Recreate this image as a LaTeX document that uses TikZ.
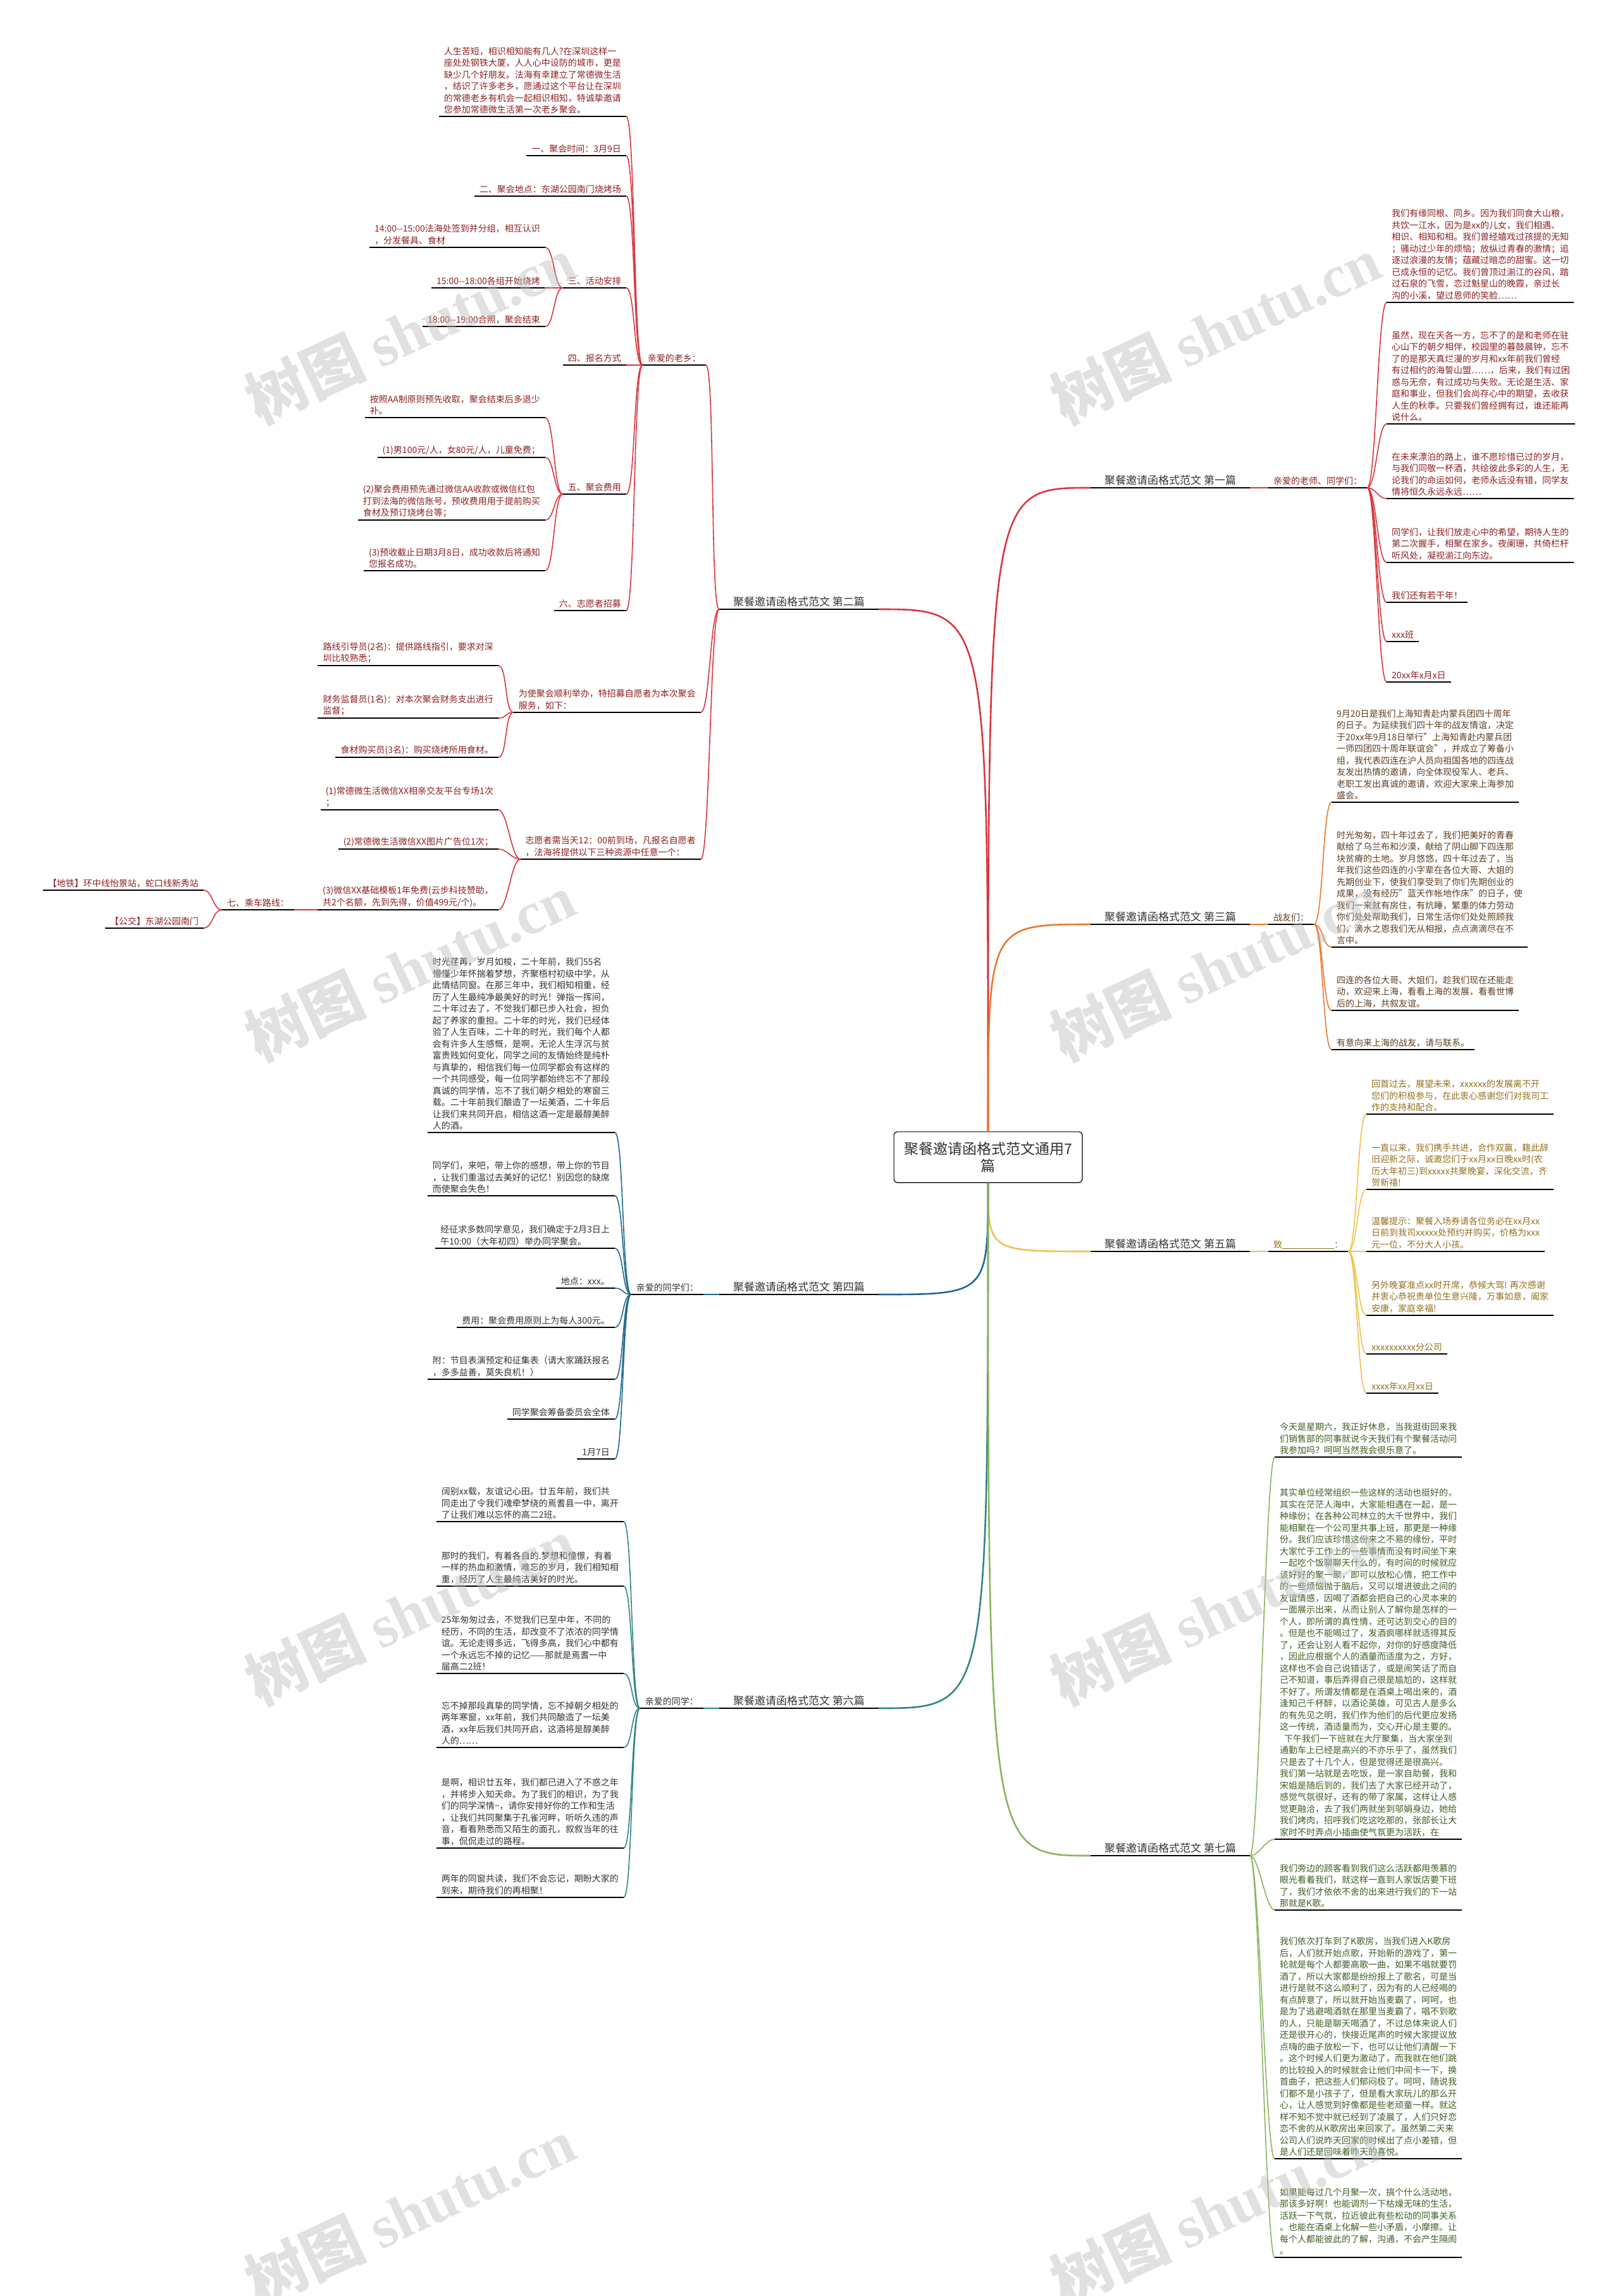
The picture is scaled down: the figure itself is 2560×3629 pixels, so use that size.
\documentclass[tikz,border=0pt]{standalone}
\usepackage{fontspec}
\setmainfont{Noto Sans CJK SC}
\newfontfamily\wmlatin{Liberation Serif}

\definecolor{redb}{HTML}{D9363E}
\definecolor{redt}{HTML}{8E1F1F}
\definecolor{orangeb}{HTML}{E8792E}
\definecolor{oranget}{HTML}{5E3D20}
\definecolor{goldb}{HTML}{F0C24A}
\definecolor{goldt}{HTML}{93701C}
\definecolor{greenb}{HTML}{87B55C}
\definecolor{greent}{HTML}{3E5E22}
\definecolor{blueb}{HTML}{1F6A8C}
\definecolor{tealb}{HTML}{2F8583}
\definecolor{greyt}{HTML}{333333}
\definecolor{mark}{HTML}{BDBDBD}

\newcommand{\smallcn}{\fontsize{14}{18.5}\selectfont}
\newcommand{\labelcn}{\fontsize{17}{20}\selectfont}
\newcommand{\titlecn}{\fontsize{23}{27}\selectfont}

\tikzset{
  ul/.style={append after command={(\tikzlastnode.south west) edge[draw=black,line width=1.6pt] (\tikzlastnode.south east)}},
  leaf/.style={font=\smallcn,align=left,inner xsep=8pt,inner ysep=4pt,ul},
  lf/.style={leaf,anchor=south east},
  rt/.style={leaf,anchor=south west},
  branch/.style={font=\labelcn,text=greyt,inner xsep=22pt,inner ysep=4pt,ul},
  trunk/.style={line width=2.6pt,to path={.. controls (\tikztostart|-\tikztotarget) .. (\tikztotarget)}},
  tol/.style={line width=1.6pt,to path={.. controls +(-14,0) and +(14,0) .. (\tikztotarget)}},
  tor/.style={line width=1.6pt,to path={.. controls +(14,0) and +(-14,0) .. (\tikztotarget)}},
}

\begin{document}
\begin{tikzpicture}[x=1pt,y=-1pt]
\useasboundingbox (0,0) rectangle (2560,3629);

\node[draw=black,line width=1.2pt,rounded corners=5pt,fill=white,font=\titlecn,align=center,inner xsep=16pt,inner ysep=16pt,text=greyt] (ctr) at (1562,1829) {聚餐邀请函格式范文通用7\\篇};

% branch labels
\node[branch,anchor=south west] (b1) at (1724,771) {聚餐邀请函格式范文 第一篇};
\node[branch,anchor=south east] (b2) at (1389,963) {聚餐邀请函格式范文 第二篇};
\node[branch,anchor=south west] (b3) at (1724,1461) {聚餐邀请函格式范文 第三篇};
\node[branch,anchor=south east] (b4) at (1389,2046) {聚餐邀请函格式范文 第四篇};
\node[branch,anchor=south west] (b5) at (1724,1978) {聚餐邀请函格式范文 第五篇};
\node[branch,anchor=south east] (b6) at (1389,2700) {聚餐邀请函格式范文 第六篇};
\node[branch,anchor=south west] (b7) at (1724,2933) {聚餐邀请函格式范文 第七篇};

\draw[redb,trunk] (ctr.north) to (b1.south west);
\draw[redb,trunk] (ctr.north) to (b2.south east);
\draw[orangeb,trunk] (ctr.north) to (b3.south west);
\draw[blueb,trunk] (ctr.south) to (b4.south east);
\draw[goldb,trunk] (ctr.south) to (b5.south west);
\draw[tealb,trunk] (ctr.south) to (b6.south east);
\draw[greenb,trunk] (ctr.south) to (b7.south west);

% second
\node[lf,text=redt] (lx) at (1116,577) {亲爱的老乡：};
\node[lf,text=redt] (vol) at (1108,1126) {为使聚会顺利举办，特招募自愿者为本次聚会\\服务，如下：};
\node[lf,text=redt] (res) at (1108,1358) {志愿者需当天12：00前到场，凡报名自愿者\\，法海将提供以下三种资源中任意一个：};
\node[lf,text=redt] (a1) at (990,184) {人生苦短，相识相知能有几人?在深圳这样一\\座处处钢铁大厦，人人心中设防的城市，更是\\缺少几个好朋友。法海有幸建立了常德微生活\\，结识了许多老乡，愿通过这个平台让在深圳\\的常德老乡有机会一起相识相知，特诚挚邀请\\您参加常德微生活第一次老乡聚会。};
\node[lf,text=redt] (a2) at (990,246) {一、聚会时间：3月9日};
\node[lf,text=redt] (a3) at (990,310) {二、聚会地点：东湖公园南门烧烤场};
\node[lf,text=redt] (a4) at (990,455) {三、活动安排};
\node[lf,text=redt] (a5) at (990,577) {四、报名方式};
\node[lf,text=redt] (a6) at (990,781) {五、聚会费用};
\node[lf,text=redt] (a7) at (990,965) {六、志愿者招募};
\node[lf,text=redt] (c1) at (862,391) {14:00-{}-15:00法海处签到并分组，相互认识\\，分发餐具、食材};
\node[lf,text=redt] (c2) at (862,455) {15:00-{}-18:00各组开始烧烤};
\node[lf,text=redt] (c3) at (862,516) {18:00-{}-19:00合照，聚会结束};
\node[lf,text=redt] (d1) at (862,660) {按照AA制原则预先收取，聚会结束后多退少\\补。};
\node[lf,text=redt] (d2) at (862,723) {(1)男100元/人，女80元/人，儿童免费；};
\node[lf,text=redt] (d3) at (862,822) {(2)聚会费用预先通过微信AA收款或微信红包\\打到法海的微信账号，预收费用用于提前购买\\食材及预订烧烤台等；};
\node[lf,text=redt] (d4) at (862,902) {(3)预收截止日期3月8日，成功收款后将通知\\您报名成功。};
\node[lf,text=redt] (f1) at (788,1052) {路线引导员(2名)：提供路线指引，要求对深\\圳比较熟悉；};
\node[lf,text=redt] (f2) at (788,1135) {财务监督员(1名)：对本次聚会财务支出进行\\监督；};
\node[lf,text=redt] (f3) at (788,1197) {食材购买员(3名)：购买烧烤所用食材。};
\node[lf,text=redt] (h1) at (788,1280) {(1)常德微生活微信XX相亲交友平台专场1次\\；};
\node[lf,text=redt] (h2) at (788,1342) {(2)常德微生活微信XX图片广告位1次；};
\node[lf,text=redt] (h3) at (788,1438) {(3)微信XX基础模板1年免费(云步科技赞助，\\共2个名额，先到先得，价值499元/个)。};
\node[lf,text=redt] (ride) at (465,1438) {七、乘车路线：};
\node[lf,text=redt] (j1) at (322,1407) {【地铁】环中线怡景站，蛇口线新秀站};
\node[lf,text=redt] (j2) at (322,1467) {【公交】东湖公园南门};

\foreach \k in {lx,vol,res} \draw[redb,tol] (b2.south west) to (\k.south east);
\foreach \k in {a1,a2,a3,a4,a5,a6,a7} \draw[redb,tol] (lx.south west) to (\k.south east);
\foreach \k in {c1,c2,c3} \draw[redb,tol] (a4.south west) to (\k.south east);
\foreach \k in {d1,d2,d3,d4} \draw[redb,tol] (a6.south west) to (\k.south east);
\foreach \k in {f1,f2,f3} \draw[redb,tol] (vol.south west) to (\k.south east);
\foreach \k in {h1,h2,h3} \draw[redb,tol] (res.south west) to (\k.south east);
\draw[redb,tol] (h3.south west) to (ride.south east);
\foreach \k in {j1,j2} \draw[redb,tol] (ride.south west) to (\k.south east);

% fourth
\node[lf,text=greyt] (sm4) at (1112,2046) {亲爱的同学们：};
\node[lf,text=greyt] (n1) at (972,1790) {时光荏苒，岁月如梭，二十年前，我们55名\\懵懂少年怀揣着梦想，齐聚梧村初级中学，从\\此情结同窗。在那三年中，我们相知相重，经\\历了人生最纯净最美好的时光！弹指一挥间，\\二十年过去了，不觉我们都已步入社会，担负\\起了养家的重担。二十年的时光，我们已经体\\验了人生百味，二十年的时光，我们每个人都\\会有许多人生感慨，是啊，无论人生浮沉与贫\\富贵贱如何变化，同学之间的友情始终是纯朴\\与真挚的，相信我们每一位同学都会有这样的\\一个共同感受，每一位同学都始终忘不了那段\\真诚的同学情，忘不了我们朝夕相处的寒窗三\\载。二十年前我们酿造了一坛美酒，二十年后\\让我们来共同开启，相信这酒一定是最醇美醉\\人的酒。};
\node[lf,text=greyt] (n2) at (972,1890) {同学们，来吧，带上你的感想，带上你的节目\\，让我们重温过去美好的记忆！别因您的缺席\\而使聚会失色！};
\node[lf,text=greyt] (n3) at (972,1973) {经征求多数同学意见，我们确定于2月3日上\\午10:00（大年初四）举办同学聚会。};
\node[lf,text=greyt] (n4) at (972,2036) {地点：xxx。};
\node[lf,text=greyt] (n5) at (972,2098) {费用：聚会费用原则上为每人300元。};
\node[lf,text=greyt] (n6) at (972,2180) {附：节目表演预定和征集表（请大家踊跃报名\\，多多益善，莫失良机！）};
\node[lf,text=greyt] (n7) at (972,2243) {同学聚会筹备委员会全体};
\node[lf,text=greyt] (n8) at (972,2306) {1月7日};

\draw[blueb,tol] (b4.south west) to (sm4.south east);
\foreach \k in {n1,n2,n3,n4,n5,n6,n7,n8} \draw[blueb,tol] (sm4.south west) to (\k.south east);

% sixth
\node[lf,text=greyt] (sm6) at (1112,2700) {亲爱的同学：};
\node[lf,text=greyt] (p1) at (986,2405) {阔别xx载，友谊记心田。廿五年前，我们共\\同走出了令我们魂牵梦绕的焉耆县一中，离开\\了让我们难以忘怀的高二2班。};
\node[lf,text=greyt] (p2) at (986,2507) {那时的我们，有着各自的.梦想和憧憬，有着\\一样的热血和激情，难忘的岁月，我们相知相\\重，经历了人生最纯洁美好的时光。};
\node[lf,text=greyt] (p3) at (986,2645) {25年匆匆过去，不觉我们已至中年，不同的\\经历，不同的生活，却改变不了浓浓的同学情\\谊。无论走得多远，飞得多高，我们心中都有\\一个永远忘不掉的记忆——那就是焉耆一中\\届高二2班！};
\node[lf,text=greyt] (p4) at (986,2762) {忘不掉那段真挚的同学情，忘不掉朝夕相处的\\两年寒窗，xx年前，我们共同酿造了一坛美\\酒，xx年后我们共同开启，这酒将是醇美醉\\人的……};
\node[lf,text=greyt] (p5) at (986,2921) {是啊，相识廿五年，我们都已进入了不惑之年\\，并将步入知天命。为了我们的相识，为了我\\们的同学深情\textasciitilde，请你安排好你的工作和生活\\，让我们共同聚集于孔雀河畔，听听久违的声\\音，看看熟悉而又陌生的面孔，叙叙当年的往\\事，侃侃走过的路程。};
\node[lf,text=greyt] (p6) at (986,2999) {两年的同窗共读，我们不会忘记，期盼大家的\\到来，期待我们的再相聚！};

\draw[tealb,tol] (b6.south west) to (sm6.south east);
\foreach \k in {p1,p2,p3,p4,p5,p6} \draw[tealb,tol] (sm6.south west) to (\k.south east);

% first
\node[rt,text=redt] (ts1) at (2005,771) {亲爱的老师、同学们：};
\node[rt,text=redt] (r1) at (2192,478) {我们有缘同根、同乡。因为我们同食大山粮，\\共饮一江水，因为是xx的儿女，我们相遇、\\相识、相知和相。我们曾经嬉戏过孩提的无知\\；骚动过少年的烦恼；放纵过青春的激情；追\\逐过浪漫的友情；蕴藏过暗恋的甜蜜。这一切\\已成永恒的记忆。我们曾顶过湔江的谷风，踏\\过石泉的飞雪，恋过魁星山的晚霞，亲过长\\沟的小溪，望过恩师的笑脸……};
\node[rt,text=redt] (r2) at (2192,670) {虽然，现在天各一方，忘不了的是和老师在驻\\心山下的朝夕相伴，校园里的暮鼓晨钟，忘不\\了的是那天真烂漫的岁月和xx年前我们曾经\\有过相约的海誓山盟……，后来，我们有过困\\惑与无奈，有过成功与失败。无论是生活、家\\庭和事业，但我们会尚存心中的期望，去收获\\人生的秋季。只要我们曾经拥有过，谁还能再\\说什么。};
\node[rt,text=redt] (r3) at (2192,788) {在未来漂泊的路上，谁不愿珍惜已过的岁月，\\与我们同敬一杯酒，共绘彼此多彩的人生，无\\论我们的命运如何，老师永远没有错，同学友\\情将恒久永远永远……};
\node[rt,text=redt] (r4) at (2192,889) {同学们，让我们放走心中的希望，期待人生的\\第二次握手，相聚在家乡。夜阑珊，共倚栏杆\\听风处，凝视湔江向东边。};
\node[rt,text=redt] (r5) at (2192,952) {我们还有若干年！};
\node[rt,text=redt] (r6) at (2192,1014) {xxx班};
\node[rt,text=redt] (r7) at (2192,1078) {20xx年x月x日};

\draw[redb,tor] (b1.south east) to (ts1.south west);
\foreach \k in {r1,r2,r3,r4,r5,r6,r7} \draw[redb,tor] (ts1.south east) to (\k.south west);

% third
\node[rt,text=oranget] (zy3) at (2005,1461) {战友们：};
\node[rt,text=oranget] (t1) at (2105,1268) {9月20日是我们上海知青赴内蒙兵团四十周年\\的日子。为延续我们四十年的战友情谊，决定\\于20xx年9月18日举行"上海知青赴内蒙兵团\\一师四团四十周年联谊会"，并成立了筹备小\\组，我代表四连在沪人员向祖国各地的四连战\\友发出热情的邀请，向全体现役军人、老兵、\\老职工发出真诚的邀请，欢迎大家来上海参加\\盛会。};
\node[rt,text=oranget] (t2) at (2105,1497) {时光匆匆，四十年过去了，我们把美好的青春\\献给了乌兰布和沙漠，献给了阴山脚下四连那\\块贫瘠的土地。岁月悠悠，四十年过去了，当\\年我们这些四连的小字辈在各位大哥、大姐的\\先期创业下，使我们享受到了你们先期创业的\\成果，没有经历"蓝天作帐地作床"的日子，使\\我们一来就有房住，有炕睡，繁重的体力劳动\\你们处处帮助我们，日常生活你们处处照顾我\\们，滴水之恩我们无从相报，点点滴滴尽在不\\言中。};
\node[rt,text=oranget] (t3) at (2105,1597) {四连的各位大哥、大姐们，趁我们现在还能走\\动，欢迎来上海，看看上海的发展，看看世博\\后的上海，共叙友谊。};
\node[rt,text=oranget] (t4) at (2105,1659) {有意向来上海的战友，请与联系。};

\draw[orangeb,tor] (b3.south east) to (zy3.south west);
\foreach \k in {t1,t2,t3,t4} \draw[orangeb,tor] (zy3.south east) to (\k.south west);

% fifth
\node[rt,text=goldt] (zhi5) at (2005,1978) {致\rule[-1pt]{82pt}{0.8pt}：};
\node[rt,text=goldt] (v1) at (2160,1761) {回首过去，展望未来，xxxxxx的发展离不开\\您们的积极参与，在此衷心感谢您们对我司工\\作的支持和配合。};
\node[rt,text=goldt] (v2) at (2160,1880) {一直以来，我们携手共进，合作双赢，籍此辞\\旧迎新之际，诚邀您们于xx月xx日晚xx时(农\\历大年初三)到xxxxx共聚晚宴，深化交流，齐\\贺新禧!};
\node[rt,text=goldt] (v3) at (2160,1978) {温馨提示：聚餐入场券请各位务必在xx月xx\\日前到我司xxxxx处预约并购买，价格为xxx\\元一位，不分大人小孩。};
\node[rt,text=goldt] (v4) at (2160,2079) {另外晚宴准点xx时开席，恭候大驾! 再次感谢\\并衷心恭祝贵单位生意兴隆，万事如意，阖家\\安康，家庭幸福!};
\node[rt,text=goldt] (v5) at (2160,2140) {xxxxxxxxxx分公司};
\node[rt,text=goldt] (v6) at (2160,2202) {xxxx年xx月xx日};

\draw[goldb,tor] (b5.south east) to (zhi5.south west);
\foreach \k in {v1,v2,v3,v4,v5,v6} \draw[goldb,tor] (zhi5.south east) to (\k.south west);

% seventh
\node[rt,text=greent] (w1) at (2015,2303) {今天是星期六，我正好休息，当我逛街回来我\\们销售部的同事就说今天我们有个聚餐活动问\\我参加吗？呵呵当然我会很乐意了。};
\node[rt,text=greent] (w2) at (2015,2907) {其实单位经常组织一些这样的活动也挺好的，\\其实在茫茫人海中，大家能相遇在一起，是一\\种缘份；在各种公司林立的大千世界中，我们\\能相聚在一个公司里共事上班，那更是一种缘\\份。我们应该珍惜这份来之不易的缘份，平时\\大家忙于工作上的一些事情而没有时间坐下来\\一起吃个饭聊聊天什么的，有时间的时候就应\\该好好的聚一聚，即可以放松心情，把工作中\\的一些烦恼抛于脑后，又可以增进彼此之间的\\友谊情感，因喝了酒都会把自己的心灵本来的\\一面展示出来，从而让别人了解你是怎样的一\\个人，即所谓的真性情，还可达到交心的目的\\。但是也不能喝过了，发酒疯哪样就适得其反\\了，还会让别人看不起你，对你的好感度降低\\，因此应根据个人的酒量而适度为之，方好，\\这样也不会自己说错话了，或是闹笑话了而自\\己不知道，事后弄得自己很是尴尬的，这样就\\不好了。所谓友情都是在酒桌上喝出来的，酒\\逢知己千杯醉，以酒论英雄，可见古人是多么\\的有先见之明，我们作为他们的后代更应发扬\\这一传统，酒适量而为，交心开心是主要的。\\\hspace*{7pt}下午我们一下班就在大厅聚集，当大家坐到\\通勤车上已经是高兴的不亦乐乎了，虽然我们\\只是去了十几个人，但是觉得还是很高兴。\\我们第一站就是去吃饭，是一家自助餐，我和\\宋姐是随后到的，我们去了大家已经开动了，\\感觉气氛很好，还有的带了家属，这样让人感\\觉更融洽，去了我们两就坐到邬娟身边，她给\\我们烤肉，招呼我们吃这吃那的，张部长让大\\家时不时弄点小插曲使气氛更为活跃，在};
\node[rt,text=greent] (w3) at (2015,3019) {我们旁边的顾客看到我们这么活跃都用羡慕的\\眼光看着我们，就这样一直到人家饭店要下班\\了，我们才依依不舍的出来进行我们的下一站\\那就是K歌。};
\node[rt,text=greent] (w4) at (2015,3412) {我们依次打车到了K歌房，当我们进入K歌房\\后，人们就开始点歌，开始新的游戏了，第一\\轮就是每个人都要高歌一曲，如果不唱就要罚\\酒了，所以大家都是纷纷报上了歌名，可是当\\进行是就不这么顺利了，因为有的人已经喝的\\有点醉意了，所以就开始当麦霸了，呵呵，也\\是为了逃避喝酒就在那里当麦霸了，唱不到歌\\的人，只能是聊天喝酒了，不过总体来说人们\\还是很开心的，快接近尾声的时候大家提议放\\点嗨的曲子放松一下，也可以让他们清醒一下\\。这个时候人们更为激动了，而我就在他们跳\\的比较投入的时候就会让他们中间卡一下，换\\首曲子，把这些人们郁闷极了。呵呵，随说我\\们都不是小孩子了，但是看大家玩儿的那么开\\心，让人感觉到好像都是些老顽童一样。就这\\样不知不觉中就已经到了凌晨了，人们只好恋\\恋不舍的从K歌房出来回家了。虽然第二天来\\公司人们说昨天回家的时候出了点小差错，但\\是人们还是回味着昨天的喜悦。};
\node[rt,text=greent] (w5) at (2015,3568) {如果能每过几个月聚一次，搞个什么活动地，\\那该多好啊！也能调剂一下枯燥无味的生活，\\活跃一下气氛，拉近彼此有些松动的同事关系\\。也能在酒桌上化解一些小矛盾，小摩擦。让\\每个人都能彼此的了解，沟通，不会产生隔阂\\。};

\foreach \k in {w1,w2,w3,w4,w5} \draw[greenb,tor] (b7.south east) to (\k.south west);

% watermark
\foreach \wx/\wy [count=\i] in {648/521,1921/521,648/1528,1921/1528,648/2546,1921/2546,648/3495,1921/3495}
  \node[rotate=25,text=mark,text opacity=0.45,font=\fontsize{95}{100}\selectfont\bfseries] (wm\i) at (\wx,\wy) {树图 {\wmlatin shutu.cn}};
\end{tikzpicture}
\end{document}
